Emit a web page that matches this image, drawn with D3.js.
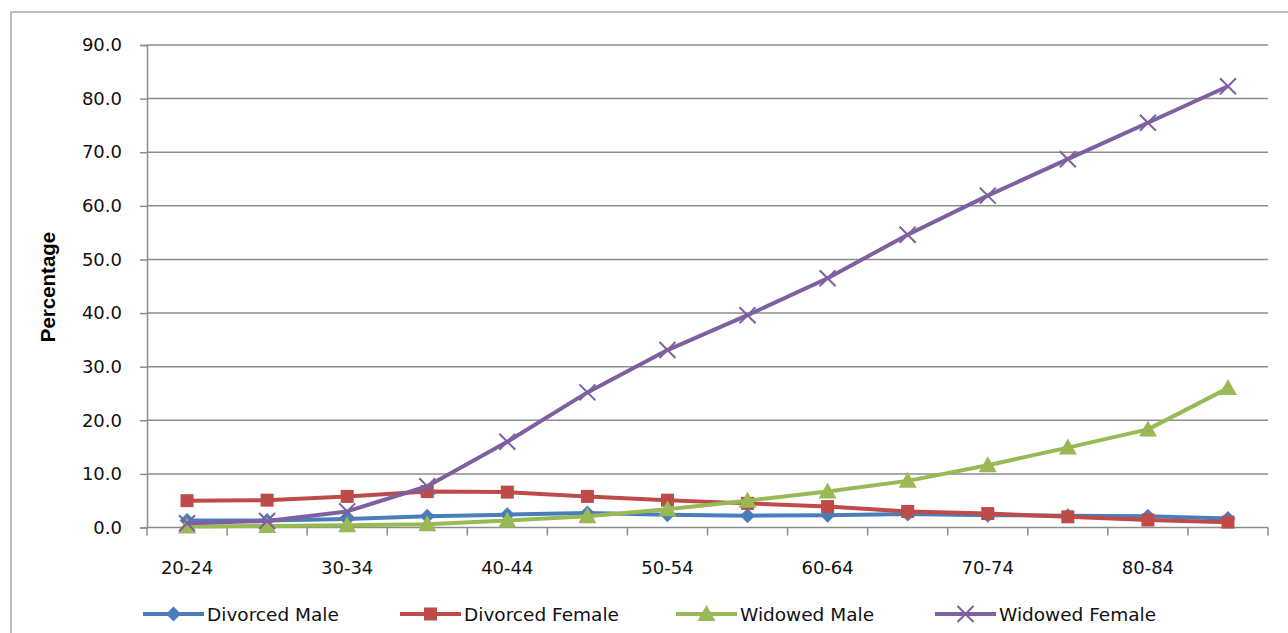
<!DOCTYPE html>
<html><head><meta charset="utf-8">
<script src="https://cdn.jsdelivr.net/npm/d3@7"></script>
<style>body{margin:0;background:#fff;}svg{display:block;}</style>
</head><body>
<svg id="c" width="1288" height="633"></svg>
<script>
const categories = ["20-24","25-29","30-34","35-39","40-44","45-49","50-54","55-59","60-64","65-69","70-74","75-79","80-84","85-89"];
const shownLabels = ["20-24","30-34","40-44","50-54","60-64","70-74","80-84"];
const divorcedMale   = [1.3, 1.3, 1.6, 2.1, 2.4, 2.7, 2.4, 2.2, 2.3, 2.5, 2.3, 2.2, 2.1, 1.7];
const divorcedFemale = [5.0, 5.1, 5.8, 6.7, 6.6, 5.8, 5.1, 4.5, 3.9, 3.0, 2.6, 2.0, 1.4, 1.0];
const widowedMale    = [0.2, 0.3, 0.4, 0.6, 1.3, 2.1, 3.4, 5.0, 6.7, 8.7, 11.6, 14.9, 18.3, 26.0];
const widowedFemale  = [0.8, 1.2, 3.0, 7.7, 16.0, 25.2, 33.1, 39.6, 46.5, 54.6, 61.9, 68.7, 75.5, 82.3];
const yTicks = [0,10,20,30,40,50,60,70,80,90];
const seriesNames = ["Divorced Male","Divorced Female","Widowed Male","Widowed Female"];
const seriesColors = ["#4A7EBB","#BE4B48","#98B954","#7D60A0"];
const seriesMarkers = ["diamond","square","triangle","x"];

const svg = d3.select("#c");
const pLeft = 147, pRight = 1268, pTop = 45, pBottom = 527.5;
const x = d3.scaleBand().domain(categories).range([pLeft, pRight]);
const y = d3.scaleLinear().domain([0, 90]).range([pBottom, pTop]);
const font = "'DejaVu Sans', Verdana, sans-serif";
const grey = "#8c8c8c";

// outer frame
svg.append("rect").attr("x", 11).attr("y", 12).attr("width", 1400).attr("height", 700)
  .attr("fill", "none").attr("stroke", "#a6a6a6").attr("stroke-width", 1.5);

// gridlines
svg.append("g").selectAll("line").data(yTicks.filter(d => d > 0)).join("line")
  .attr("x1", pLeft).attr("x2", pRight).attr("y1", d => y(d)).attr("y2", d => y(d))
  .attr("stroke", grey).attr("stroke-width", 1.5);

// y axis
const yAxis = d3.axisLeft(y).tickValues(yTicks).tickFormat(d3.format(".1f")).tickSize(7).tickPadding(18);
const gy = svg.append("g").attr("transform", `translate(${pLeft},0)`).call(yAxis);
gy.select(".domain").attr("stroke", grey).attr("stroke-width", 1.5);
gy.selectAll(".tick line").attr("stroke", grey).attr("stroke-width", 1.5);
gy.selectAll("text").attr("font-family", font).attr("font-size", 18).attr("fill", "#111");

// x axis
const gx = svg.append("g");
gx.append("line").attr("x1", pLeft).attr("x2", pRight).attr("y1", y(0)).attr("y2", y(0))
  .attr("stroke", grey).attr("stroke-width", 1.5);
const bounds = categories.map(c => x(c)).concat([x(categories[categories.length-1]) + x.bandwidth()]);
gx.selectAll("line.tk").data(bounds).join("line").attr("class","tk")
  .attr("x1", d => d).attr("x2", d => d).attr("y1", y(0)).attr("y2", y(0) + 8)
  .attr("stroke", grey).attr("stroke-width", 1.5);
gx.selectAll("text").data(shownLabels).join("text")
  .attr("x", d => x(d) + x.bandwidth()/2).attr("y", 574)
  .attr("text-anchor", "middle").attr("font-family", font).attr("font-size", 18).attr("fill", "#111")
  .text(d => d);

// y title
svg.append("text").attr("transform", "translate(55,287) rotate(-90)")
  .attr("text-anchor", "middle").attr("font-family", "'Liberation Sans', Arial, sans-serif")
  .attr("font-weight", "bold").attr("font-size", 20.5).attr("fill", "#000").text("Percentage");

function drawMarker(g, type, cx, cy, color) {
  if (type === "diamond") {
    g.append("path").attr("d", `M${cx},${cy-7.5}L${cx+7.5},${cy}L${cx},${cy+7.5}L${cx-7.5},${cy}Z`).attr("fill", color);
  } else if (type === "square") {
    g.append("rect").attr("x", cx-6.5).attr("y", cy-6.5).attr("width", 13).attr("height", 13).attr("fill", color);
  } else if (type === "triangle") {
    g.append("path").attr("d", `M${cx},${cy-9}L${cx+9},${cy+7}L${cx-9},${cy+7}Z`).attr("fill", color);
  } else {
    g.append("path").attr("d", `M${cx-8},${cy-8}L${cx+8},${cy+8}M${cx+8},${cy-8}L${cx-8},${cy+8}`)
      .attr("stroke", color).attr("stroke-width", 2).attr("fill", "none");
  }
}

const allSeries = [divorcedMale, divorcedFemale, widowedMale, widowedFemale];
const line = d3.line().x((d, i) => x(categories[i]) + x.bandwidth()/2).y(d => y(d));
allSeries.forEach((vals, si) => {
  const g = svg.append("g");
  g.append("path").datum(vals).attr("d", line).attr("fill", "none")
    .attr("stroke", seriesColors[si]).attr("stroke-width", 4).attr("stroke-linejoin", "round");
  vals.forEach((v, i) => drawMarker(g, seriesMarkers[si], x(categories[i]) + x.bandwidth()/2, y(v), seriesColors[si]));
});

// legend
const legendX = [143, 400, 676, 935];
const ly = 614;
seriesNames.forEach((name, si) => {
  const g = svg.append("g");
  const x0 = legendX[si];
  g.append("line").attr("x1", x0).attr("x2", x0 + 61).attr("y1", ly).attr("y2", ly)
    .attr("stroke", seriesColors[si]).attr("stroke-width", 4);
  drawMarker(g, seriesMarkers[si], x0 + 30.5, ly, seriesColors[si]);
  g.append("text").attr("x", x0 + 64).attr("y", ly + 6.5).attr("font-family", font)
    .attr("font-size", 18.5).attr("fill", "#111").text(name);
});
</script>
</body></html>
